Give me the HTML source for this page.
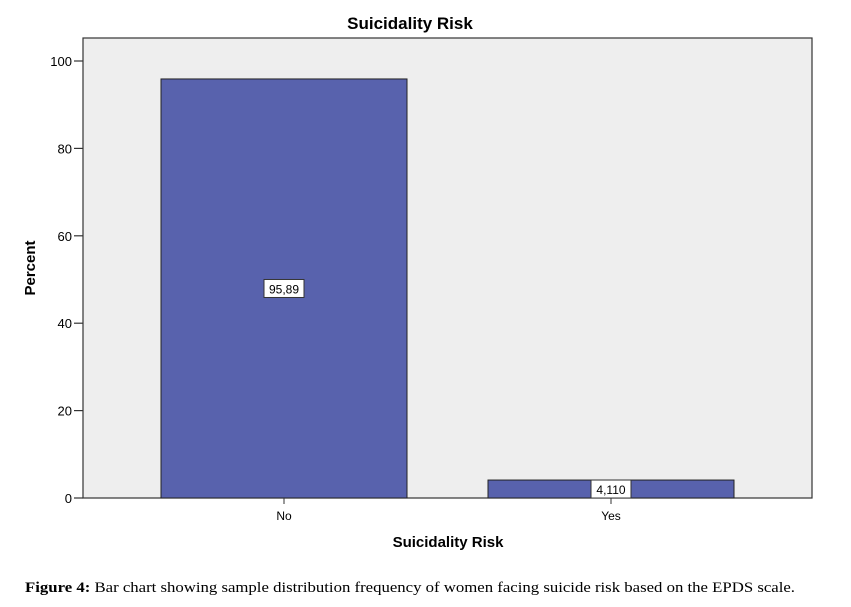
<!DOCTYPE html>
<html><head><meta charset="utf-8"><style>
body{margin:0;background:#fff;width:851px;height:607px;overflow:hidden}
svg{display:block}
</style></head><body>
<svg width="851" height="607">
<text x="410" y="29" text-anchor="middle" font-family="Liberation Sans, sans-serif" font-weight="bold" font-size="17">Suicidality Risk</text>
<rect x="83" y="38" width="729" height="460" fill="#eeeeee" stroke="#333" stroke-width="1.2"/>
<g id="yaxis"></g>
<g id="bars"></g>
<text transform="translate(35,268) rotate(-90)" text-anchor="middle" font-family="Liberation Sans, sans-serif" font-weight="bold" font-size="15">Percent</text>
<text x="448" y="547" text-anchor="middle" font-family="Liberation Sans, sans-serif" font-weight="bold" font-size="15">Suicidality Risk</text>
<text x="25" y="592" textLength="770" lengthAdjust="spacingAndGlyphs" font-family="Liberation Serif, serif" font-size="15"><tspan font-weight="bold">Figure 4:</tspan> Bar chart showing sample distribution frequency of women facing suicide risk based on the EPDS scale.</text>
</svg>
<script>
const categories=["No","Yes"];
const values=[95.89,4.110];
const valueLabels=["95,89","4,110"];
const yTicks=[0,20,40,60,80,100];
const NS="http://www.w3.org/2000/svg";
const y0=498,pxPerUnit=4.37;
function yScale(v){return y0-v*pxPerUnit;}
function xCenter(i){return 284+i*327;}
const barW=246;
function mk(t,a,p){const e=document.createElementNS(NS,t);for(const k in a)e.setAttribute(k,a[k]);p.appendChild(e);return e;}
const ya=document.getElementById('yaxis');
yTicks.forEach(t=>{
 const l=mk('line',{x1:74,x2:83,y1:yScale(t),y2:yScale(t),stroke:'#333','stroke-width':1.2},ya);
 
 
 const tx=mk('text',{x:72,y:yScale(t)+5,'text-anchor':'end','font-family':'Liberation Sans, sans-serif','font-size':13},ya);
 tx.textContent=t;
 
 
});
const bg=document.getElementById('bars');
categories.forEach((c,i)=>{
 const cx=xCenter(i),top=yScale(values[i]);
 const r=mk('rect',{x:cx-barW/2,y:top,width:barW,height:y0-top,fill:'#5862ad',stroke:'#222','stroke-width':1},bg);
 
 
 const tk=mk('line',{x1:cx,x2:cx,y1:y0,y2:y0+6,stroke:'#333'},bg);
 
 
 const xl=mk('text',{x:cx,y:520,'text-anchor':'middle','font-family':'Liberation Sans, sans-serif','font-size':12},bg);
 xl.textContent=c;
 
 
 const ly=(top+y0)/2;
 const bx=mk('rect',{x:cx-20,y:ly-9,width:40,height:18,fill:'#fff',stroke:'#333','stroke-width':1},bg);
 
 
 const vt=mk('text',{x:cx,y:ly+5,'text-anchor':'middle','font-family':'Liberation Sans, sans-serif','font-size':12},bg);
 vt.textContent=valueLabels[i];
 
 
});
</script>
</body></html>
